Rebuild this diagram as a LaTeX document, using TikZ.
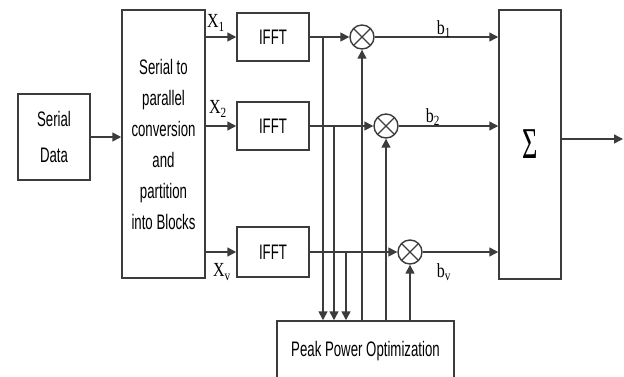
\documentclass[tikz,border=0pt]{standalone}
\usepackage{fontspec}
\usetikzlibrary{arrows.meta,calc}
\newfontfamily\narfont[FakeStretch=0.63]{Liberation Sans}
\newfontfamily\serfont[FakeStretch=0.8]{Liberation Serif}
\definecolor{ln}{HTML}{3C3C3C}
\begin{document}
\begin{tikzpicture}[x=1pt,y=-1pt,
  line width=1.5pt,
  box/.style={draw=ln, line width=1.5pt, rectangle, inner sep=0pt, align=center,
    font=\narfont\fontsize{21}{31}\selectfont},
  mult/.style={draw=ln, line width=1.4pt, circle, minimum size=24pt, inner sep=0pt,
    path picture={\draw[line width=1.2pt,ln] (path picture bounding box.north west) -- (path picture bounding box.south east)
      (path picture bounding box.north east) -- (path picture bounding box.south west);}},
  arr/.style={-{Triangle[length=9pt,width=9pt]}, line width=1.5pt, draw=ln, fill=ln},
  lbl/.style={font=\serfont\fontsize{20}{20}\selectfont, inner sep=0pt}]
\useasboundingbox (0,0) rectangle (624,376);

\node[box, minimum width=72pt, minimum height=86pt, font=\narfont\fontsize{21}{36}\selectfont] (sd) at (54,137) {Serial\\Data};
\node[box, minimum width=83pt, minimum height=268pt] (sp) at (163.5,144) {Serial to\\parallel\\conversion\\and\\partition\\into Blocks};

\node[box, minimum width=72pt, minimum height=48pt] (f1) at (273,37) {IFFT};
\node[box, minimum width=72pt, minimum height=48pt] (f2) at (273,126) {IFFT};
\node[box, minimum width=72pt, minimum height=50pt] (f3) at (273,252) {IFFT};

\node[mult] (m1) at (362,37) {};
\node[mult] (m2) at (386,126) {};
\node[mult] (m3) at (410,252) {};

\node[box, minimum width=62pt, minimum height=269pt, font=\serfont\fontsize{44}{44}\selectfont] (sum) at (530,144.5) {\raisebox{-3pt}{\scalebox{0.75}[1]{Σ}}};

\node[box, minimum width=177pt, minimum height=60pt] (ppo) at (365.5,351) {\raisebox{4pt}{Peak Power Optimization}};

\draw[arr] (sd.east) -- (sd.east -| sp.west);
\draw[arr] (sp.east |- f1) -- (f1.west);
\draw[arr] (sp.east |- f2) -- (f2.west);
\draw[arr] (sp.east |- f3) -- (f3.west);

\node[lbl] (x1) at (216,23) {X\textsubscript{1}};
\node[lbl] (x2) at (218,109) {X\textsubscript{2}};
\node[lbl] (xv) at (222,272) {X\textsubscript{v}};

\draw[arr] (f1.east) -- (m1.west);
\draw[arr] (f2.east) -- (m2.west);
\draw[arr] (f3.east) -- (m3.west);

\draw[arr] (m1.east) -- (m1.east -| sum.west);
\draw[arr] (m2.east) -- (m2.east -| sum.west);
\draw[arr] (m3.east) -- (m3.east -| sum.west);

\node[lbl] (b1) at (444,29) {b\textsubscript{1}};
\node[lbl] (b2) at (433,117) {b\textsubscript{2}};
\node[lbl] (bv) at (444,272) {b\textsubscript{v}};

\coordinate (t1) at (323,37);
\coordinate (t2) at (334,126);
\coordinate (t3) at (346,252);
\draw[arr] (t1) -- (t1 |- ppo.north);
\draw[arr] (t2) -- (t2 |- ppo.north);
\draw[arr] (t3) -- (t3 |- ppo.north);

\draw[arr] (m1 |- ppo.north) -- (m1.south);
\draw[arr] (m2 |- ppo.north) -- (m2.south);
\draw[arr] (m3 |- ppo.north) -- (m3.south);

\coordinate (out) at (623,139);
\draw[arr] (sum.east |- out) -- (out);
\end{tikzpicture}
\end{document}
